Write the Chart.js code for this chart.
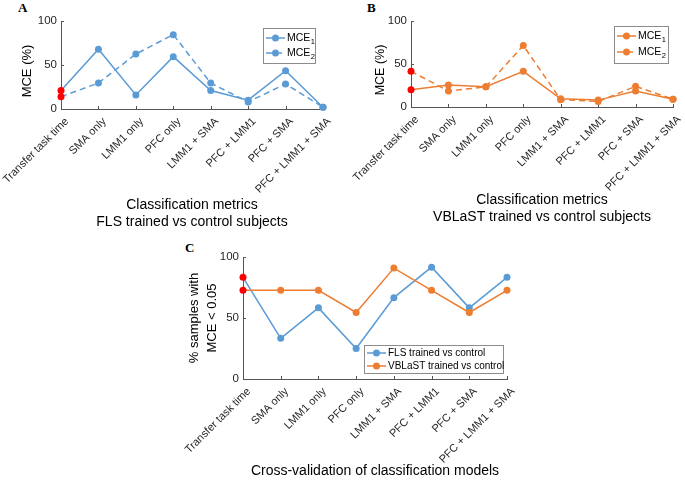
<!DOCTYPE html>
<html><head><meta charset="utf-8">
<script src="https://cdn.jsdelivr.net/npm/chart.js@4/dist/chart.umd.min.js"></script>
<style>
body{margin:0;background:#fff;width:685px;height:480px;position:relative;overflow:hidden;font-family:"Liberation Sans",Arial,sans-serif}
canvas{position:absolute}
.lab{position:absolute;font-family:"Liberation Serif","Times New Roman",serif;font-weight:bold;font-size:13px;line-height:1;color:#000}
</style></head><body>
<div class="lab" style="left:18px;top:1px">A</div>
<div class="lab" style="left:367px;top:1px">B</div>
<div class="lab" style="left:185px;top:241px">C</div>
<canvas id="cA" width="340" height="231" style="left:0;top:0"></canvas>
<canvas id="cB" width="345" height="226" style="left:340px;top:0"></canvas>
<canvas id="cC" width="380" height="240" style="left:170px;top:240px"></canvas>
<script>
// ---- data ----
const categories = ['Transfer task time','SMA only','LMM1 only','PFC only','LMM1 + SMA','PFC + LMM1','PFC + SMA','PFC + LMM1 + SMA'];
const yTicks = [0, 50, 100];
const flsMCE1 = [21, 68, 16, 59.5, 21, 10, 43.5, 2];
const flsMCE2 = [14, 29.5, 62.5, 84.5, 29.5, 8, 28.5, 2];
const vblastMCE1 = [20, 25.5, 23.5, 41.5, 9.5, 8, 18.5, 9];
const vblastMCE2 = [41.5, 18.5, 23.5, 71.5, 8.5, 6.5, 24, 9];
const cvFLS = [83.3, 33.3, 58.3, 25, 66.7, 91.7, 58.3, 83.3];
const cvVBLaST = [72.7, 72.7, 72.7, 54.5, 90.9, 72.7, 54.5, 72.7];
const titleA = ['Classification metrics', 'FLS trained vs control subjects'];
const titleB = ['Classification metrics', 'VBLaST trained vs control subjects'];
const titleC = 'Cross-validation of classification models';
const yTitleAB = ['MCE (%)'];
const yTitleC = ['% samples with', 'MCE < 0.05'];

// ---- styles ----
const BLUE = '#5b9bd5', ORANGE = '#ed7d31', RED = '#ff0000';
const AX = '#555555', TICK = '#262626';
const FONT = '"Liberation Sans", Arial, sans-serif';
Chart.defaults.font.family = FONT;

function ds(label, data, color, dashed, order) {
  return {
    label, data, order,
    borderColor: color, backgroundColor: color,
    borderWidth: 1.5, borderDash: dashed ? [6, 4] : [],
    pointRadius: 3.5, pointHoverRadius: 3.5, pointBorderWidth: 0,
    pointBackgroundColor: c => c.dataIndex === 0 ? RED : color,
    pointBorderColor: c => c.dataIndex === 0 ? RED : color,
    tension: 0, fill: false, clip: false
  };
}

const boxLegend = {
  id: 'boxLegend',
  afterDraw(chart, args, o) {
    const ctx = chart.ctx, ca = chart.chartArea;
    const right = ca.right - o.right, left = right - o.w;
    const top = o.top != null ? ca.top + o.top : ca.bottom - o.bottom - o.h;
    ctx.save();
    ctx.fillStyle = '#fff';
    ctx.fillRect(left, top, o.w, o.h);
    ctx.strokeStyle = '#8c8c8c'; ctx.lineWidth = 1;
    ctx.strokeRect(Math.round(left) + 0.5, Math.round(top) + 0.5, o.w, o.h);
    chart.data.datasets.forEach((d, i) => {
      const y = top + o.row0 + i * o.rowGap;
      ctx.strokeStyle = d.borderColor; ctx.lineWidth = d.borderWidth;
      ctx.setLineDash(d.borderDash || []);
      ctx.beginPath(); ctx.moveTo(left + o.l0, y); ctx.lineTo(left + o.l1, y); ctx.stroke();
      ctx.setLineDash([]);
      ctx.fillStyle = d.borderColor;
      ctx.beginPath(); ctx.arc(left + (o.l0 + o.l1) / 2, y, d.pointRadius, 0, Math.PI * 2); ctx.fill();
      ctx.fillStyle = '#000'; ctx.textBaseline = 'middle'; ctx.textAlign = 'left';
      ctx.font = o.fontSize + 'px ' + FONT;
      let txt = d.label, sub = null;
      const m = txt.match(/^(.*?)([\u2080-\u2089])$/);
      if (m) { txt = m[1]; sub = String.fromCharCode(m[2].charCodeAt(0) - 0x2080 + 48); }
      ctx.fillText(txt, left + o.tx, y);
      if (sub) {
        const w = ctx.measureText(txt).width;
        ctx.font = (o.fontSize * 0.72) + 'px ' + FONT;
        ctx.fillText(sub, left + o.tx + w + 0.5, y + 3.5);
      }
    });
    ctx.restore();
  }
};

// y-axis title drawn rotated at a chosen centre (MATLAB places it slightly below the axis middle)
const yTitle = {
  id: 'yTitle',
  afterDraw(chart, args, o) {
    const ctx = chart.ctx, ca = chart.chartArea;
    ctx.save();
    ctx.translate(o.x, (ca.top + ca.bottom) / 2 + o.dy);
    ctx.rotate(-Math.PI / 2);
    ctx.fillStyle = '#000'; ctx.textAlign = 'center'; ctx.textBaseline = 'middle';
    ctx.font = o.size + 'px ' + FONT;
    o.text.forEach((t, i) => ctx.fillText(t, 0, i * o.lh));
    ctx.restore();
  }
};

const inTicks = {
  id: 'inTicks',
  beforeDatasetsDraw(chart) {
    const ctx = chart.ctx, x = chart.scales.x, y = chart.scales.y;
    ctx.save(); ctx.strokeStyle = AX; ctx.lineWidth = 1; ctx.beginPath();
    x.ticks.forEach((t, i) => { const px = Math.round(x.getPixelForTick(i)) + 0.5; ctx.moveTo(px, x.top); ctx.lineTo(px, x.top - 3); });
    y.ticks.forEach((t, i) => { const py = Math.round(y.getPixelForTick(i)) + 0.5; ctx.moveTo(y.right, py); ctx.lineTo(y.right + 3, py); });
    ctx.stroke(); ctx.restore();
  }
};

function makeChart(id, datasets, cfg) {
  return new Chart(document.getElementById(id), {
    type: 'line',
    data: { labels: categories, datasets },
    plugins: [inTicks, boxLegend, yTitle],
    options: {
      responsive: false, animation: false, events: [],
      layout: { padding: { left: 0, top: cfg.padTop, right: cfg.padRight, bottom: 0 } },
      plugins: { legend: { display: false }, tooltip: { enabled: false }, boxLegend: cfg.legend, yTitle: cfg.yTitle },
      scales: {
        x: {
          type: 'category', offset: false,
          grid: { display: false, drawTicks: false },
          border: { display: true, color: AX, width: 1 },
          ticks: { autoSkip: false, minRotation: 45, maxRotation: 45, padding: 6, labelOffset: 6, color: TICK, font: { size: 11 } },
          title: { display: true, text: cfg.xTitle, color: '#000', font: { size: 14, lineHeight: 1.25 }, padding: 0 },
          afterFit(s) { s.height = cfg.xHeight; s.paddingLeft = 0; s.paddingRight = 0; }
        },
        y: {
          min: 0, max: 100,
          afterBuildTicks(s) { s.ticks = yTicks.map(v => ({ value: v })); },
          grid: { display: false, drawTicks: false },
          border: { display: true, color: AX, width: 1 },
          ticks: { padding: 4, color: TICK, font: { size: 11.5 } },
          title: { display: false },
          afterFit(s) { s.width = cfg.yWidth; }
        }
      }
    }
  });
}

makeChart('cA', [ds('MCE\u2081', flsMCE1, BLUE, false, 0), ds('MCE\u2082', flsMCE2, BLUE, true, 1)], {
  padTop: 21, padRight: 17, xHeight: 122, yWidth: 61, xTitle: titleA,
  yTitle: { text: yTitleAB, x: 27.5, dy: 6, size: 13, lh: 16 },
  legend: { right: 8, top: 7, w: 52, h: 35, row0: 10, rowGap: 15, l0: 3, l1: 22, tx: 24, fontSize: 10.5 }
});
makeChart('cB', [ds('MCE\u2081', vblastMCE1, ORANGE, false, 0), ds('MCE\u2082', vblastMCE2, ORANGE, true, 1)], {
  padTop: 21, padRight: 12, xHeight: 119, yWidth: 71, xTitle: titleB,
  yTitle: { text: yTitleAB, x: 40.5, dy: 6, size: 12.5, lh: 16 },
  legend: { right: 5, top: 5, w: 54, h: 37, row0: 10, rowGap: 16, l0: 3, l1: 22, tx: 24, fontSize: 10.5 }
});
makeChart('cC', [ds('FLS trained vs control', cvFLS, BLUE, false, 1), ds('VBLaST trained vs control', cvVBLaST, ORANGE, false, 0)], {
  padTop: 17, padRight: 43, xHeight: 101, yWidth: 73, xTitle: titleC,
  yTitle: { text: yTitleC, x: 24, dy: 0, size: 13, lh: 18 },
  legend: { right: 4, bottom: 6, w: 139, h: 28, row0: 8, rowGap: 13, l0: 3, l1: 22, tx: 24, fontSize: 10 }
});
</script>
</body></html>
